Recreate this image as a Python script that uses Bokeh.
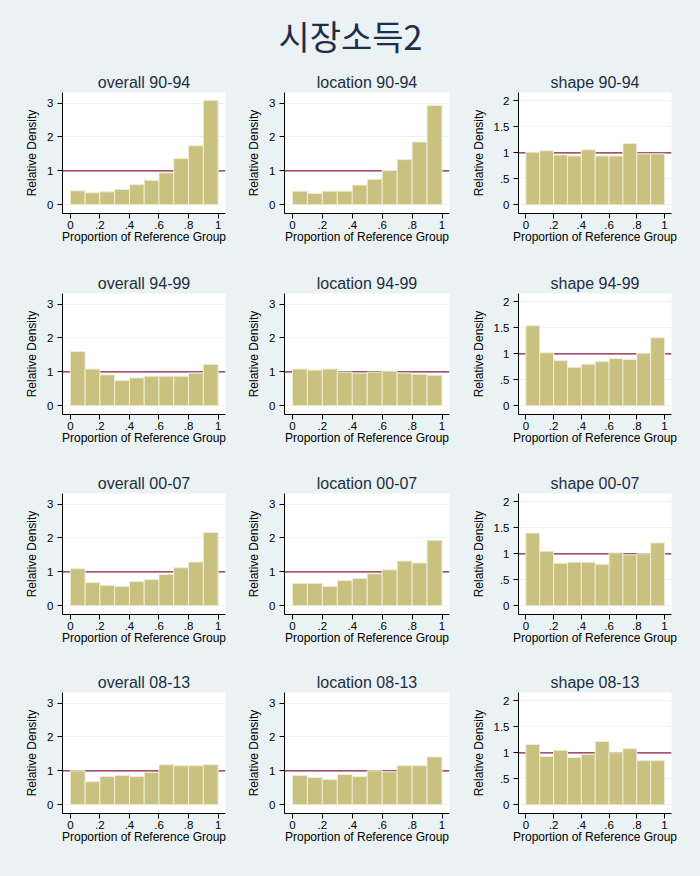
from bokeh.plotting import figure
from bokeh.layouts import gridplot, column
from bokeh.models import Range1d, FixedTicker, Span, Label
from bokeh.embed import file_html
from bokeh.resources import INLINE

# ---------------- data ----------------
main_title = "시장소득2"
bin_centers = [0.05, 0.15, 0.25, 0.35, 0.45, 0.55, 0.65, 0.75, 0.85, 0.95]

periods = ["90-94", "94-99", "00-07", "08-13"]
components = ["overall", "location", "shape"]

overall_90_94 = [0.41, 0.35, 0.38, 0.45, 0.59, 0.72, 0.94, 1.36, 1.74, 3.08]
location_90_94 = [0.40, 0.33, 0.40, 0.40, 0.58, 0.75, 1.01, 1.33, 1.85, 2.93]
shape_90_94 = [1.01, 1.04, 0.96, 0.94, 1.06, 0.94, 0.94, 1.18, 0.98, 0.98]

overall_94_99 = [1.60, 1.08, 0.91, 0.74, 0.82, 0.87, 0.87, 0.87, 0.96, 1.22]
location_94_99 = [1.08, 1.05, 1.08, 0.99, 0.96, 0.99, 1.02, 0.96, 0.93, 0.90]
shape_94_99 = [1.54, 1.02, 0.87, 0.74, 0.80, 0.85, 0.91, 0.89, 1.01, 1.31]

overall_00_07 = [1.09, 0.68, 0.60, 0.57, 0.71, 0.77, 0.92, 1.12, 1.29, 2.16]
location_00_07 = [0.66, 0.66, 0.57, 0.74, 0.80, 0.94, 1.06, 1.32, 1.26, 1.93]
shape_00_07 = [1.40, 1.05, 0.82, 0.84, 0.84, 0.80, 1.02, 0.98, 1.00, 1.21]

overall_08_13 = [1.00, 0.68, 0.83, 0.86, 0.83, 0.95, 1.18, 1.15, 1.15, 1.18]
location_08_13 = [0.86, 0.80, 0.74, 0.89, 0.83, 1.00, 0.97, 1.15, 1.15, 1.41]
shape_08_13 = [1.16, 0.93, 1.05, 0.91, 0.97, 1.22, 1.00, 1.08, 0.85, 0.85]

x_ticks = [0, 0.2, 0.4, 0.6, 0.8, 1]
x_tick_labels = ["0", ".2", ".4", ".6", ".8", "1"]
y_ticks_wide = [0, 1, 2, 3]
y_tick_labels_wide = ["0", "1", "2", "3"]
y_ticks_shape = [0, 0.5, 1, 1.5, 2]
y_tick_labels_shape = ["0", ".5", "1", "1.5", "2"]
reference_level = 1

x_label = "Proportion of Reference Group"
y_label = "Relative Density"

series = {
    ("overall", "90-94"): overall_90_94,
    ("location", "90-94"): location_90_94,
    ("shape", "90-94"): shape_90_94,
    ("overall", "94-99"): overall_94_99,
    ("location", "94-99"): location_94_99,
    ("shape", "94-99"): shape_94_99,
    ("overall", "00-07"): overall_00_07,
    ("location", "00-07"): location_00_07,
    ("shape", "00-07"): shape_00_07,
    ("overall", "08-13"): overall_08_13,
    ("location", "08-13"): location_08_13,
    ("shape", "08-13"): shape_08_13,
}

# ---------------- style ----------------
BG = "#EAF2F3"
BAR = "#C9C17F"
BAR_EDGE = "#EFEDD8"
REF = "#8C1C3C"
TITLE_C = "#1F2D44"
FONT = "Liberation Sans"

PW, PH = 228, 200
col_borders = [(54, 11), (48, 15), (54, 21)]
row_tops = [24, 25, 25, 24]


def make_panel(comp, period, ci, ri):
    vals = series[(comp, period)]
    if comp == "shape":
        yr = Range1d(-0.167, 2.16)
        yt, ytl = y_ticks_shape, y_tick_labels_shape
    else:
        yr = Range1d(-0.26, 3.31)
        yt, ytl = y_ticks_wide, y_tick_labels_wide
    bl, br = col_borders[ci]
    p = figure(width=PW, height=PH, x_range=Range1d(-0.053, 1.05), y_range=yr,
               output_backend="svg", toolbar_location=None, tools="",
               min_border_left=bl, min_border_right=br,
               min_border_top=row_tops[ri], min_border_bottom=PH - row_tops[ri] - 121)
    p.background_fill_color = "white"
    p.border_fill_color = BG
    p.outline_line_color = None

    p.title.text = f"{comp} {period}"
    p.title.align = "center"
    p.title.text_font = FONT
    p.title.text_font_size = "16px"
    p.title.text_font_style = "normal"
    p.title.text_color = TITLE_C
    p.title.standoff = 4

    p.xgrid.visible = False
    p.ygrid.ticker = FixedTicker(ticks=yt)
    p.ygrid.grid_line_color = BG
    p.ygrid.grid_line_width = 1

    span = Span(location=reference_level, dimension="width", line_color=REF,
                line_width=1.2, level="underlay")
    p.add_layout(span)

    p.vbar(x=bin_centers, top=vals, bottom=0, width=0.1,
           fill_color=BAR, line_color=BAR_EDGE, line_width=1)

    for ax in (p.xaxis[0], p.yaxis[0]):
        ax.axis_line_color = "black"
        ax.major_tick_line_color = "black"
        ax.major_tick_in = 0
        ax.major_tick_out = 5
        ax.minor_tick_in = 0
        ax.minor_tick_out = 0
        ax.major_label_text_font = FONT
        ax.major_label_text_font_size = "11.5px"
        ax.major_label_text_color = "black"
        ax.axis_label_text_font = FONT
        ax.axis_label_text_font_size = "12px"
        ax.axis_label_text_font_style = "normal"
        ax.axis_label_text_color = "black"

    p.xaxis.ticker = FixedTicker(ticks=x_ticks)
    p.xaxis.major_label_overrides = {t: l for t, l in zip(x_ticks, x_tick_labels)}
    p.xaxis.axis_label = x_label
    p.xaxis.major_label_standoff = 2
    p.xaxis.axis_label_standoff = -2

    p.yaxis.ticker = FixedTicker(ticks=yt)
    p.yaxis.major_label_overrides = {t: l for t, l in zip(yt, ytl)}
    p.yaxis.axis_label = y_label
    p.yaxis.major_label_standoff = 4
    p.yaxis.axis_label_standoff = 5
    p.yaxis.major_label_orientation = "horizontal"
    return p


rows = []
for ri, period in enumerate(periods):
    rows.append([make_panel(c, period, ci, ri) for ci, c in enumerate(components)])

grid = gridplot(rows, toolbar_location=None)

head = figure(width=PW * 3, height=60, x_range=Range1d(0, 1), y_range=Range1d(0, 1),
              output_backend="svg", toolbar_location=None, tools="",
              min_border=0)
head.axis.visible = False
head.grid.visible = False
head.outline_line_color = None
head.background_fill_color = BG
head.border_fill_color = BG
head.add_layout(Label(x=0.5, y=0.55, text=main_title, text_align="center",
                      text_baseline="middle", text_font="Noto Sans CJK KR",
                      text_font_size="34px", text_color="#1E2D4A"))

layout = column(head, grid, spacing=0)

html = file_html(layout, INLINE, title="시장소득2")
html = html.replace("</head>", "<style>html,body{background:%s !important;}body{margin:8px !important;}</style></head>" % BG, 1)
open("out.html", "w").write(html)
